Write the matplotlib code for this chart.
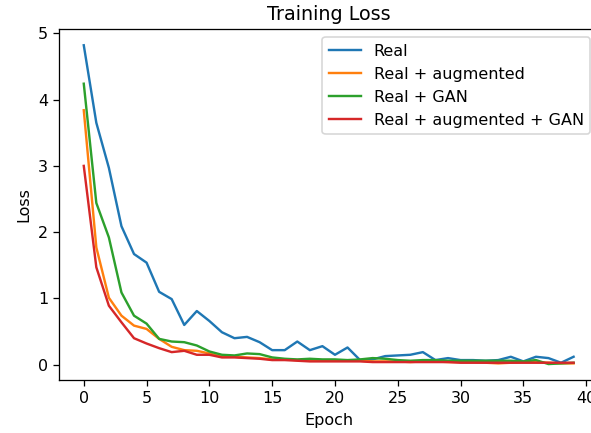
import matplotlib
matplotlib.use('Agg')
import matplotlib.pyplot as plt
import numpy as np

# losses, 40 epochs
epochs = np.arange(40)

loss_real = [4.82, 3.65, 2.97, 2.09, 1.67, 1.54, 1.10, 0.99, 0.60, 0.81,
             0.66, 0.49, 0.40, 0.42, 0.34, 0.22, 0.22, 0.35, 0.22, 0.28,
             0.15, 0.26, 0.07, 0.08, 0.13, 0.14, 0.15, 0.19, 0.07, 0.10,
             0.07, 0.07, 0.06, 0.07, 0.12, 0.05, 0.12, 0.10, 0.03, 0.12]

loss_aug = [3.84, 1.77, 1.01, 0.74, 0.59, 0.54, 0.39, 0.27, 0.22, 0.21,
            0.17, 0.12, 0.12, 0.11, 0.10, 0.08, 0.08, 0.07, 0.07, 0.07,
            0.07, 0.06, 0.06, 0.05, 0.05, 0.05, 0.04, 0.05, 0.05, 0.04,
            0.04, 0.04, 0.03, 0.02, 0.03, 0.04, 0.04, 0.03, 0.02, 0.02]

loss_gan = [4.24, 2.44, 1.92, 1.09, 0.74, 0.62, 0.39, 0.35, 0.34, 0.29,
            0.20, 0.15, 0.14, 0.17, 0.16, 0.11, 0.09, 0.08, 0.09, 0.08,
            0.08, 0.07, 0.08, 0.10, 0.09, 0.07, 0.06, 0.07, 0.07, 0.06,
            0.06, 0.06, 0.06, 0.06, 0.06, 0.05, 0.07, 0.01, 0.02, 0.03]

loss_aug_gan = [3.00, 1.47, 0.89, 0.64, 0.40, 0.32, 0.25, 0.19, 0.21, 0.15,
                0.15, 0.11, 0.11, 0.10, 0.09, 0.07, 0.07, 0.06, 0.05, 0.05,
                0.05, 0.05, 0.05, 0.04, 0.04, 0.04, 0.04, 0.04, 0.04, 0.04,
                0.03, 0.03, 0.03, 0.03, 0.03, 0.03, 0.03, 0.03, 0.03, 0.03]

labels = ['Real', 'Real + augmented', 'Real + GAN', 'Real + augmented + GAN']

dpi = 115
fig = plt.figure(figsize=(591 / dpi, 433 / dpi), dpi=dpi)
ax = fig.add_axes([0.1003, 0.1224, 0.9117, 0.8099])

ax.plot(epochs, loss_real, label=labels[0])
ax.plot(epochs, loss_aug, label=labels[1])
ax.plot(epochs, loss_gan, label=labels[2])
ax.plot(epochs, loss_aug_gan, label=labels[3])

ax.set_title('Training Loss')
ax.set_xlabel('Epoch')
ax.set_ylabel('Loss')
ax.legend(loc='upper right')

fig.savefig('out.png', dpi=dpi)
